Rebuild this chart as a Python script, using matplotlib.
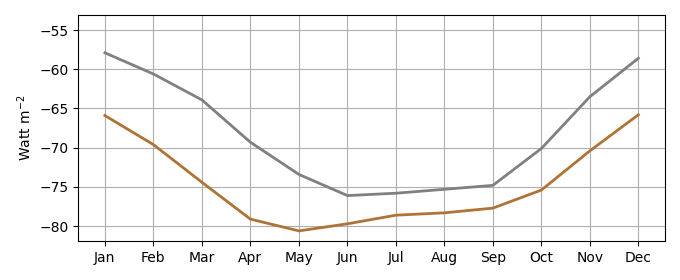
import matplotlib
matplotlib.use("Agg")
import matplotlib.pyplot as plt


# ============================================================
# DATA
# ============================================================

MONTHS = ["Jan", "Feb", "Mar", "Apr", "May", "Jun",
          "Jul", "Aug", "Sep", "Oct", "Nov", "Dec"]

GREY_SERIES = [-57.9, -60.6, -63.9, -69.3, -73.4, -76.1,
               -75.8, -75.3, -74.8, -70.1, -63.5, -58.6]

BROWN_SERIES = [-65.9, -69.6, -74.4, -79.1, -80.6, -79.7,
                -78.6, -78.3, -77.7, -75.4, -70.4, -65.8]

Y_TICKS = [-80, -75, -70, -65, -60, -55]


# ============================================================
# PLOTTING
# ============================================================

def main():
    figure, axis = plt.subplots(figsize=(6.8, 2.8), dpi=100)
    figure.subplots_adjust(left=0.115, right=0.978, top=0.946, bottom=0.139)

    x = list(range(len(MONTHS)))
    axis.plot(x, GREY_SERIES, color="#808080", linewidth=2)
    axis.plot(x, BROWN_SERIES, color="#b07336", linewidth=2)

    axis.set_xticks(x)
    axis.set_xticklabels(MONTHS)
    axis.set_yticks(Y_TICKS)
    axis.set_ylim(-81.9, -53.1)
    axis.set_ylabel(r"Watt m$^{-2}$")
    axis.grid(True)

    figure.savefig("out.png", dpi=100)


if __name__ == "__main__":
    main()
